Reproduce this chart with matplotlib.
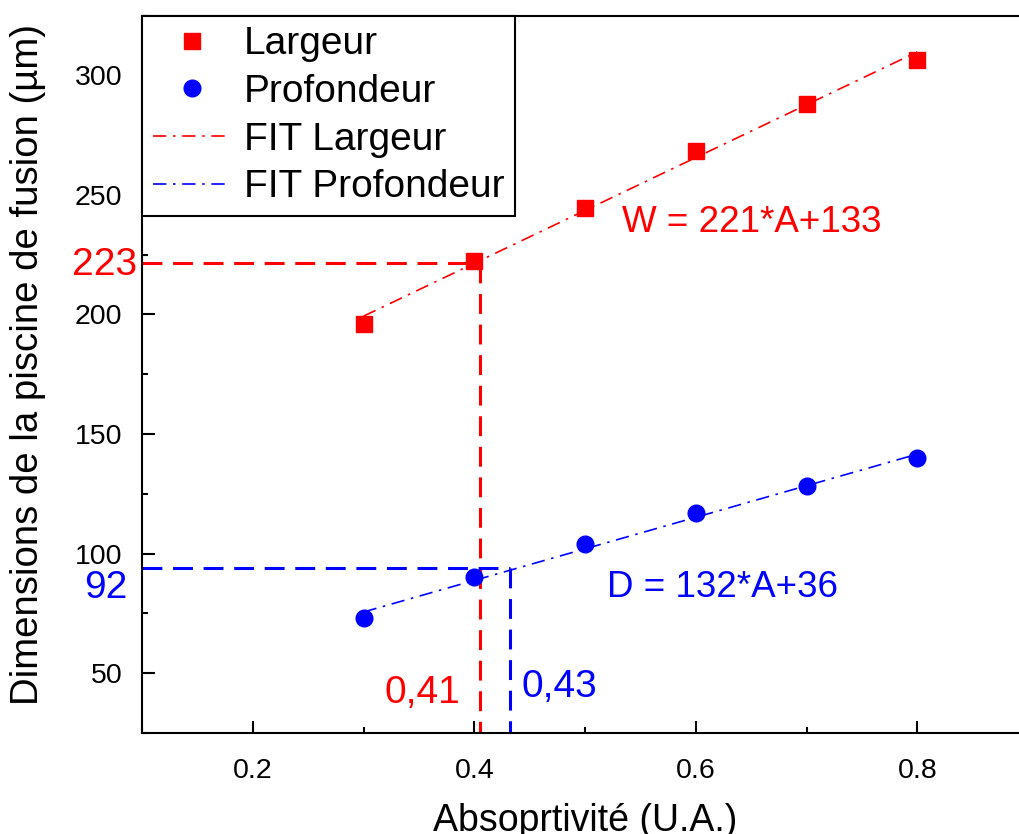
import matplotlib
matplotlib.use('Agg')
import matplotlib.pyplot as plt
from matplotlib.ticker import MultipleLocator

plt.rcParams['font.family'] = ['Liberation Sans', 'DejaVu Sans']

# données
absorptivite = [0.3, 0.4, 0.5, 0.6, 0.7, 0.8]
largeur = [196.2, 222.5, 244.7, 268.5, 288.2, 306.2]
profondeur = [73.0, 90.2, 104.1, 116.9, 128.1, 140.1]

# droites d'ajustement
fit_w = (221, 133)
fit_d = (132, 36)

# lignes de lecture
x_lec_w, y_lec_w = 0.405, 221.5
x_lec_d, y_lec_d = 0.432, 94.0

xmin, xmax = 0.1, 0.9
ymin, ymax = 25, 325

rouge = '#ff0000'
bleu = '#0000ff'

fig = plt.figure(figsize=(10.19, 8.34), dpi=100)
ax = fig.add_axes([0.1394, 0.1211, 0.8695, 0.8603])

ax.plot(absorptivite, largeur, 's', color=rouge, ms=11.5, label='Largeur', zorder=4)
ax.plot(absorptivite, profondeur, 'o', color=bleu, ms=12, label='Profondeur', zorder=4)

xf = [absorptivite[0], absorptivite[-1]]
ax.plot(xf, [fit_w[0] * x + fit_w[1] for x in xf], color=rouge, lw=1.2,
        ls=(0, (8, 4, 1.5, 4)), label='FIT Largeur', zorder=3)
ax.plot(xf, [fit_d[0] * x + fit_d[1] for x in xf], color=bleu, lw=1.2,
        ls=(0, (8, 4, 1.5, 4)), label='FIT Profondeur', zorder=3)

# lignes pointillées de lecture
tirets = (0, (6.5, 3.5))
ax.plot([xmin, x_lec_w], [y_lec_w, y_lec_w], color=rouge, lw=2.2, ls=tirets)
ax.plot([x_lec_w, x_lec_w], [y_lec_w, ymin], color=rouge, lw=2.2, ls=tirets)
ax.plot([xmin, x_lec_d], [y_lec_d, y_lec_d], color=bleu, lw=2.2, ls=tirets)
ax.plot([x_lec_d, x_lec_d], [y_lec_d, ymin], color=bleu, lw=2.2, ls=tirets)

ax.text(0.0955, 216.6, '223', color=rouge, fontsize=28, ha='right', va='baseline', clip_on=False)
ax.text(0.0865, 81.5, '92', color=bleu, fontsize=28, ha='right', va='baseline', clip_on=False)
ax.text(0.387, 37.6, '0,41', color=rouge, fontsize=28, ha='right', va='baseline')
ax.text(0.443, 40.1, '0,43', color=bleu, fontsize=28, ha='left', va='baseline')
ax.text(0.5336, 234.6, 'W = 221*A+133', color=rouge, fontsize=26.5, ha='left', va='baseline')
ax.text(0.520, 81.9, 'D = 132*A+36', color=bleu, fontsize=26.5, ha='left', va='baseline')

ax.set_xlim(xmin, xmax)
ax.set_ylim(ymin, ymax)
ax.xaxis.set_major_locator(MultipleLocator(0.2))
ax.xaxis.set_minor_locator(MultipleLocator(0.1))
ax.yaxis.set_major_locator(MultipleLocator(50))
ax.yaxis.set_minor_locator(MultipleLocator(25))
ax.tick_params(which='both', direction='in', width=1.5, labelsize=20.5)
ax.tick_params(which='major', length=9)
ax.tick_params(which='minor', length=4.5)
ax.tick_params(axis='x', pad=18)
ax.tick_params(axis='y', pad=14)
for s in ax.spines.values():
    s.set_linewidth(1.5)

ax.set_xlabel('Absoprtivité (U.A.)', fontsize=27)
ax.set_ylabel('Dimensions de la piscine de fusion (µm)', fontsize=27.6)
ax.xaxis.set_label_coords(0.5, -0.097)
ax.yaxis.set_label_coords(-0.108, 0.513)

leg = ax.legend(loc='upper left', bbox_to_anchor=(0, 1), borderaxespad=0, borderpad=0.28,
                fontsize=28, handlelength=2.0, handletextpad=0.33, labelspacing=0.3,
                fancybox=False, edgecolor='black', framealpha=1)
leg.get_frame().set_linewidth(1.5)

fig.savefig('out.png', dpi=100)
